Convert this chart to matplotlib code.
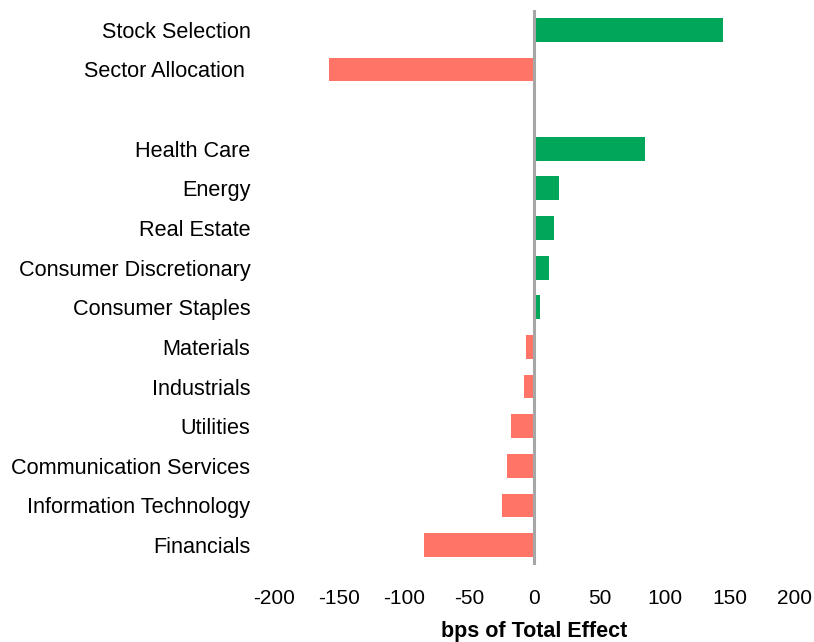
import numpy as np
import matplotlib
matplotlib.use('Agg')
import matplotlib.pyplot as plt

# Attribution data (bps), top to bottom; empty label = spacer row
categories = ['Stock Selection', 'Sector Allocation ', '',
              'Health Care', 'Energy', 'Real Estate', 'Consumer Discretionary',
              'Consumer Staples', 'Materials', 'Industrials', 'Utilities',
              'Communication Services', 'Information Technology', 'Financials']
values = [145, -158, np.nan,
          85, 19, 15, 11, 4, -6.5, -8, -18, -21, -25, -85]
ticks = [-200, -150, -100, -50, 0, 50, 100, 150, 200]

green = '#00A659'
red = '#FF7467'

plt.rcParams['font.family'] = ['Liberation Sans', 'DejaVu Sans']

fig = plt.figure(figsize=(8.14, 6.42), dpi=100)
ax = fig.add_axes([0.3366, 0.12, 0.640, 0.8645])

y = np.arange(len(categories))
vals = np.array(values, dtype=float)
colors = [green if v >= 0 else red for v in np.nan_to_num(vals)]
ax.barh(y, np.nan_to_num(vals), height=0.6, color=colors, zorder=2)

# Zero line
ax.axvline(0, color='#A6A6A6', linewidth=2.2, zorder=3)

ax.set_xlim(-200, 200)
ax.set_ylim(len(categories) - 0.5, -0.5)
ax.set_yticks(y)
ax.set_yticklabels(categories, fontsize=15.6)
ax.set_xticks(ticks)
ax.set_xticklabels([str(t) for t in ticks], fontsize=15)
ax.tick_params(axis='both', length=0)
ax.tick_params(axis='x', pad=17)
ax.tick_params(axis='y', pad=17)

for s in ax.spines.values():
    s.set_visible(False)

ax.set_xlabel('bps of Total Effect', fontsize=15.5, fontweight='bold', labelpad=10)

plt.savefig('out.png', dpi=100)
